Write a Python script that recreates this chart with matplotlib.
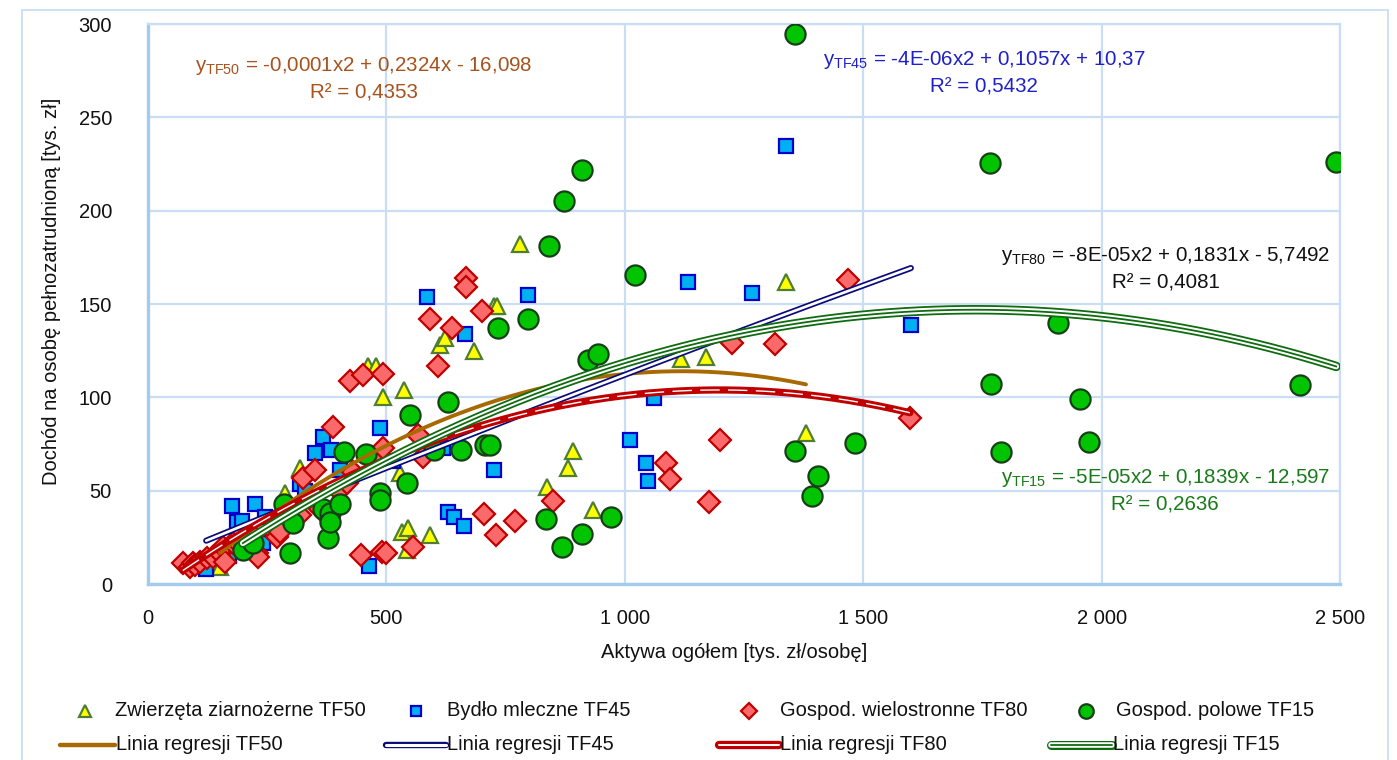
import numpy as np
import matplotlib
matplotlib.use("Agg")
import matplotlib.pyplot as plt
from matplotlib.lines import Line2D
from matplotlib.patches import Rectangle

plt.rcParams['font.family'] = ['Liberation Sans', 'DejaVu Sans']
plt.rcParams['mathtext.fontset'] = 'custom'
plt.rcParams['mathtext.rm'] = 'Liberation Sans'
plt.rcParams['mathtext.it'] = 'Liberation Sans'

# ---------------- data ----------------
# TF50 - Zwierzęta ziarnożerne
x50 = [151, 287, 319, 461, 478, 493, 537, 528, 533, 545, 543, 591, 612, 623, 684,
       725, 732, 780, 837, 881, 891, 933, 1118, 1170, 1338, 1380]
y50 = [9, 49, 62, 117, 117, 100, 104, 59.5, 28, 30, 18, 26, 128, 132, 125,
       149, 149, 182, 52, 62, 71, 39.6, 120.5, 121.6, 162, 81]

# TF45 - Bydło mleczne
x45 = [122, 170, 176, 187, 197, 224, 241, 245, 319, 330, 350, 367, 384, 403, 463,
       487, 514, 585, 619, 629, 642, 663, 665, 726, 797, 1011, 1044, 1049, 1061,
       1133, 1267, 1338, 1600]
y45 = [8, 15, 42, 33, 34, 43, 22, 36, 53.6, 50, 70, 79, 72, 61, 9.6,
       83.6, 66, 154, 73, 38.6, 36, 31, 134, 61, 155, 77, 65, 55, 99.6,
       162, 156, 234.6, 139]

# TF80 - Gospod. wielostronne
x80 = [73, 88, 94, 99, 109, 124, 136, 151, 157, 161, 178, 193, 220, 228, 231, 262,
       270, 277, 319, 325, 350, 361, 388, 400, 417, 424, 430, 447, 451, 470, 491,
       493, 493, 499, 556, 566, 577, 591, 608, 637, 667, 667, 700, 705, 730, 770,
       849, 1086, 1095, 1176, 1200, 1225, 1315, 1468, 1598]
y80 = [11, 9, 11, 10, 12, 14, 14.5, 16.6, 20, 12, 22, 21, 26, 16.6, 14.5, 29,
       25, 28, 37, 57, 61, 40, 84, 50, 54, 109, 60, 15.5, 112, 68, 17,
       112.6, 73, 16.6, 20, 80, 68, 142, 117, 137, 164, 159, 146, 37.5, 26, 34,
       44.5, 65, 56, 44, 77, 129, 128.6, 163, 89]

# TF15 - Gospod. polowe
x15 = [199, 220, 285, 298, 304, 367, 377, 382, 382, 403, 411, 457, 487, 487, 543,
       549, 600, 629, 656, 707, 717, 734, 797, 835, 841, 868, 872, 910, 910, 923,
       944, 971, 1021, 1357, 1357, 1393, 1405, 1483, 1766, 1768, 1789, 1908, 1955,
       1974, 2416, 2492]
y15 = [18, 22, 43, 16.6, 32.7, 40, 24.6, 38, 33, 43, 70.7, 69.6, 49, 45, 54,
       90.5, 72, 97.5, 72, 74.5, 74.5, 137, 142, 35, 181, 20, 205, 222, 27, 120,
       123, 36, 165.5, 294.6, 71, 47, 58, 75.5, 225.5, 107, 70.7, 140, 99,
       76, 106.6, 226]

# trend-line coefficients (a, b, c) as drawn
coef50 = [-1.038e-4, 0.2324, -16.098]
coef45 = [-4e-6, 0.1057, 10.37]
coef80 = [-7.64e-5, 0.1831, -5.7492]
coef15 = [-5.3e-5, 0.1839, -12.597]

eq50 = [r'y$_{\mathrm{TF50}}$ = -0,0001x2 + 0,2324x - 16,098', 'R² = 0,4353']
eq45 = [r'y$_{\mathrm{TF45}}$ = -4E-06x2 + 0,1057x + 10,37', 'R² = 0,5432']
eq80 = [r'y$_{\mathrm{TF80}}$ = -8E-05x2 + 0,1831x - 5,7492', 'R² = 0,4081']
eq15 = [r'y$_{\mathrm{TF15}}$ = -5E-05x2 + 0,1839x - 12,597', 'R² = 0,2636']

xticks = [0, 500, 1000, 1500, 2000, 2500]
xticklabels = ['0', '500', '1 000', '1 500', '2 000', '2 500']
yticks = [0, 50, 100, 150, 200, 250, 300]

names_sc = ['Zwierzęta ziarnożerne TF50', 'Bydło mleczne TF45',
            'Gospod. wielostronne TF80', 'Gospod. polowe TF15']
names_ln = ['Linia regresji TF50', 'Linia regresji TF45',
            'Linia regresji TF80', 'Linia regresji TF15']

# ---------------- styles ----------------
W, H = 1397, 760
fig = plt.figure(figsize=(W / 100, H / 100), dpi=100)
ax = fig.add_axes([148 / W, 1 - 584 / H, (1340 - 148) / W, (584 - 24) / H])

grid_c = '#C9DEF5'
spine_c = '#A3CBF0'

sty50 = dict(marker='^', ms=12, mfc='#FFFF00', mec='#4F7D33', mew=1.6, ls='none')
sty45 = dict(marker='s', ms=10, mfc='#00B0F0', mec='#0000CC', mew=1.6, ls='none')
sty80 = dict(marker='D', ms=11.5, mfc='#FA6A6A', mec='#C00000', mew=1.6, ls='none')
sty15 = dict(marker='o', ms=14.5, mfc='#00C400', mec='#173F17', mew=1.6, ls='none')

ax.plot(x50, y50, zorder=3, **sty50)
ax.plot(x45, y45, zorder=3, **sty45)
ax.plot(x80, y80, zorder=3, **sty80)
ax.plot(x15, y15, zorder=3, **sty15)

def trend(xs, c):
    xx = np.linspace(min(xs), max(xs), 300)
    return xx, np.polyval(c, xx)

c50 = '#A86A00'
c45 = '#0A0A78'
c80 = '#C00000'
c15 = '#0F6B0F'

xx, yy = trend(x50, coef50)
ax.plot(xx, yy, color=c50, lw=2.8, zorder=4, solid_capstyle='round')
xx, yy = trend(x45, coef45)
ax.plot(xx, yy, color=c45, lw=4.4, zorder=4, solid_capstyle='round')
ax.plot(xx, yy, color='white', lw=1.9, zorder=4, solid_capstyle='round')
xx, yy = trend(x80, coef80)
ax.plot(xx, yy, color=c80, lw=5.2, zorder=4, solid_capstyle='round')
ax.plot(xx, yy, color='white', lw=1.0, zorder=4, dashes=(14, 6))
xx, yy = trend(x15, coef15)
ax.plot(xx, yy, color=c15, lw=6.8, zorder=4, solid_capstyle='round')
ax.plot(xx, yy, color='white', lw=4.2, zorder=4, solid_capstyle='round')
ax.plot(xx, yy, color=c15, lw=1.3, zorder=4)

ax.set_xlim(0, 2500)
ax.set_ylim(0, 300)
ax.set_xticks(xticks)
ax.set_xticklabels(xticklabels)
ax.set_yticks(yticks)
ax.tick_params(length=0, labelsize=14.5, labelcolor='#111111')
ax.tick_params(axis='y', pad=26)
ax.tick_params(axis='x', pad=18)
ax.grid(True, color=grid_c, lw=1.6, zorder=0)
ax.set_axisbelow(True)
for s in ['top', 'right']:
    ax.spines[s].set_color(grid_c)
    ax.spines[s].set_linewidth(1.6)
for s in ['left', 'bottom']:
    ax.spines[s].set_color(spine_c)
    ax.spines[s].set_linewidth(2.4)

# equations
def px(x, y):
    return x / W, 1 - y / H

fs_eq = 14.8
for eq, col, cx, cy in [(eq50, '#A8521E', 364, 66), (eq45, '#2020C8', 984, 60),
                        (eq80, '#111111', 1166, 256), (eq15, '#1A7A1A', 1165, 478)]:
    fig.text(*px(cx, cy), eq[0], color=col, fontsize=fs_eq, ha='center', va='center')
    fig.text(*px(cx, cy + 27), eq[1], color=col, fontsize=fs_eq, ha='center', va='center')

# axis labels
fig.text(*px(52, 291), 'Dochód na osobę pełnozatrudnioną [tys. zł]', rotation=90,
         fontsize=14.5, ha='center', va='center', color='#111111')
fig.text(*px(734, 652), 'Aktywa ogółem [tys. zł/osobę]', fontsize=14.5,
         ha='center', va='center', color='#111111')

# outer chart border
fig.add_artist(Rectangle((22 / W, -0.05), (1388 - 22) / W, 1 - 10 / H + 0.05,
                         transform=fig.transFigure, fill=False, ec='#C5DCF2', lw=1.2))

# legend (manual)
fs_lg = 14.5
row1, row2 = 711, 745
mx = [85, 416, 749, 1086]
tx1 = [115, 447, 780, 1116]
for m, t, sty, name in zip(mx, tx1, [sty50, sty45, sty80, sty15], names_sc):
    s = dict(sty)
    s['ms'] = s['ms'] * 0.72
    fig.add_artist(Line2D([m / W], [1 - row1 / H], transform=fig.transFigure, **s))
    fig.text(*px(t, row1), name, fontsize=fs_lg, ha='left', va='center', color='#111111')

lx = [(60, 115), (386, 446), (719, 779), (1051, 1112)]
ly = 1 - row2 / H
layers = [
    [(c50, 3.2)],
    [(c45, 4.6), ('white', 2.2)],
    [(c80, 6.0), ('white', 1.4)],
    [(c15, 6.5), ('white', 4.0), (c15, 1.3)],
]
for (a, b), lay, name in zip(lx, layers, names_ln):
    for col, lw in lay:
        fig.add_artist(Line2D([a / W, b / W], [ly, ly], transform=fig.transFigure,
                              color=col, lw=lw, solid_capstyle='round'))
    fig.text(*px(b + 1, row2), name, fontsize=fs_lg, ha='left', va='center', color='#111111')

fig.savefig('out.png', dpi=100)
